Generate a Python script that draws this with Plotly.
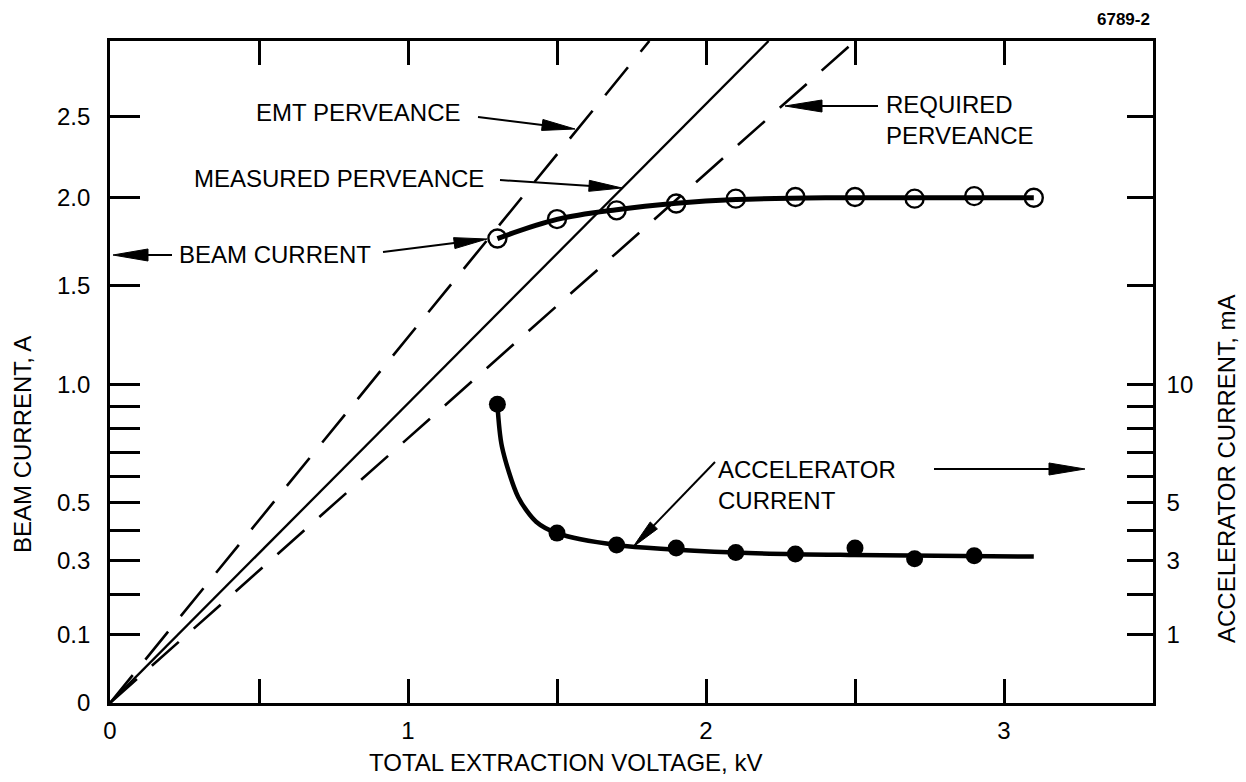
import numpy as np
import plotly.graph_objects as go

# ---------------- data ----------------
# perveance lines (I ~ V^1.5 -> straight on the I^(2/3) scale), end points
emt_v = [0.0, 1.81]
emt_i = [0.0, 3.0]
meas_v = [0.0, 2.21]
meas_i = [0.0, 3.0]
req_v = [0.0, 2.50]
req_i = [0.0, 3.0]

# beam current, A (open circles)
beam_v = [1.3, 1.5, 1.7, 1.9, 2.1, 2.3, 2.5, 2.7, 2.9, 3.1]
beam_a = [1.763, 1.875, 1.926, 1.966, 1.995, 2.005, 2.005, 1.995, 2.01, 2.0]
# faired curve through beam current
beam_fit_v = [1.3, 1.5, 1.7, 1.9, 2.1, 2.4, 2.8, 3.1]
beam_fit_a = [1.763, 1.873, 1.93, 1.968, 1.99, 2.0, 2.0, 2.0]

# accelerator current, mA (filled circles)
acc_v = [1.3, 1.5, 1.7, 1.9, 2.1, 2.3, 2.5, 2.7, 2.9]
acc_ma = [9.1, 3.9, 3.5, 3.4, 3.25, 3.2, 3.4, 3.05, 3.15]
# faired curve through accelerator current
acc_fit_v = [1.3, 1.315, 1.37, 1.43, 1.5, 1.7, 2.1, 2.5, 3.1]
acc_fit_ma = [9.1, 7.25, 5.2, 4.3, 3.9, 3.5, 3.25, 3.17, 3.12]

# axis ticks
x_ticks = [0, 0.5, 1.0, 1.5, 2.0, 2.5, 3.0]
x_labels = ["0", "", "1", "", "2", "", "3"]
left_ticks = [0, 0.1, 0.2, 0.3, 0.4, 0.5, 0.6, 0.7, 0.8, 0.9, 1.0, 1.5, 2.0, 2.5]
left_labels = ["0", "0.1", "", "0.3", "", "0.5", "", "", "", "", "1.0", "1.5", "2.0", "2.5"]
right_ticks = [1, 2, 3, 4, 5, 6, 7, 8, 9, 10, 15, 20, 25]
right_labels = ["1", "", "3", "", "5", "", "", "", "", "10", "", "", ""]

X_MAX = 3.5
I_MAX = 3.0      # A at top of frame
MA_MAX = 30.0    # mA at top of frame

# ---------------- helpers ----------------
P = 2.0 / 3.0  # the ordinate is drawn on an I^(2/3) scale


def t(v):
    return np.power(np.asarray(v, dtype=float), P)


W, H = 1246, 782
ML, MR, MT, MB = 110, 93, 41, 79
PW, PH = W - ML - MR, H - MT - MB
FONT = "Liberation Sans, Arial, Helvetica, sans-serif"
FS = 24


def px(x, y):
    """pixel position -> paper coordinates"""
    return (x - ML) / PW, (H - MB - y) / PH


annotations = []
shapes = []


def text(s, x, y, xanchor="left", size=FS, angle=0, align="left", bold=False):
    X, Y = px(x, y)
    annotations.append(dict(
        text=("<b>%s</b>" % s) if bold else s, x=X, y=Y, xref="paper", yref="paper",
        xanchor=xanchor, yanchor="middle", showarrow=False, textangle=angle,
        align=align, font=dict(family=FONT, size=size, color="black")))


def arrow(tip, tail, hl=33, hw=11, lw=2):
    tx, ty = tip
    sx, sy = tail
    dx, dy = tx - sx, ty - sy
    L = (dx * dx + dy * dy) ** 0.5
    ux, uy = dx / L, dy / L
    bx, by = tx - ux * hl, ty - uy * hl
    nx, ny = -uy, ux
    p1 = px(sx, sy)
    p2 = px(bx + ux * 2, by + uy * 2)
    shapes.append(dict(type="path", xref="paper", yref="paper",
                       path="M %f,%f L %f,%f" % (p1[0], p1[1], p2[0], p2[1]),
                       line=dict(color="black", width=lw)))
    a = px(tx, ty)
    b = px(bx + nx * hw / 2, by + ny * hw / 2)
    c = px(bx - nx * hw / 2, by - ny * hw / 2)
    shapes.append(dict(type="path", xref="paper", yref="paper",
                       path="M %f,%f L %f,%f L %f,%f Z" % (a[0], a[1], b[0], b[1], c[0], c[1]),
                       fillcolor="black", line=dict(color="black", width=1)))


# ---------------- figure ----------------
fig = go.Figure()
dash = "36px,20px"
fig.add_trace(go.Scatter(x=emt_v, y=t(emt_i), mode="lines",
                         line=dict(color="black", width=2.6, dash=dash), name="EMT perveance"))
fig.add_trace(go.Scatter(x=meas_v, y=t(meas_i), mode="lines",
                         line=dict(color="black", width=2.3), name="Measured perveance"))
fig.add_trace(go.Scatter(x=req_v, y=t(req_i), mode="lines",
                         line=dict(color="black", width=2.6, dash=dash), name="Required perveance"))

fig.add_trace(go.Scatter(x=beam_fit_v, y=t(beam_fit_a), mode="lines",
                         line=dict(color="black", width=5, shape="spline", smoothing=1.0),
                         name="Beam current fit"))
fig.add_trace(go.Scatter(x=beam_v, y=t(beam_a), mode="markers",
                         marker=dict(symbol="circle-open", size=18, color="black",
                                     line=dict(width=2.4, color="black")),
                         name="Beam current"))

fig.add_trace(go.Scatter(x=acc_fit_v, y=t(acc_fit_ma), mode="lines", yaxis="y2",
                         line=dict(color="black", width=4.5, shape="spline", smoothing=0.8),
                         name="Accelerator current fit"))
fig.add_trace(go.Scatter(x=acc_v, y=t(acc_ma), mode="markers", yaxis="y2",
                         marker=dict(symbol="circle", size=17, color="black"),
                         name="Accelerator current"))

# ---------------- labels & arrows ----------------
text("EMT PERVEANCE", 254, 113)
arrow((575, 129), (478, 117))
text("MEASURED PERVEANCE", 192, 178)
arrow((622, 188), (500, 180))
text("BEAM CURRENT", 177, 255)
arrow((487, 239), (383, 252))
arrow((113, 255), (172, 255), hl=35, hw=12)
text("REQUIRED<br>PERVEANCE", 884, 120)
arrow((785, 106), (878, 106), hl=37, hw=12)
text("ACCELERATOR<br>CURRENT", 716, 485)
arrow((633, 547), (715, 462), hl=30, hw=10)
arrow((1085, 469), (934, 469), hl=36, hw=12)

text("TOTAL EXTRACTION VOLTAGE, kV", 565, 762, xanchor="center")
text("BEAM CURRENT, A", 22, 445, xanchor="center", angle=-90)
text("ACCELERATOR CURRENT, mA", 1227, 469, xanchor="center", angle=-90)
text("6789-2", 1152, 20, xanchor="right", size=17, bold=True)

axis_common = dict(showgrid=False, zeroline=False, showline=True, linecolor="black",
                   linewidth=2.6, ticks="inside", tickwidth=2.6, tickcolor="black",
                   tickfont=dict(family=FONT, size=FS, color="black"))

fig.update_layout(
    width=W, height=H,
    margin=dict(l=ML, r=MR, t=MT, b=MB, pad=0),
    paper_bgcolor="white", plot_bgcolor="white",
    showlegend=False,
    font=dict(family=FONT, size=FS, color="black"),
    xaxis=dict(range=[0, X_MAX], tickmode="array", tickvals=x_ticks, ticktext=x_labels,
               ticklen=24, mirror="ticks", ticklabelstandoff=4, **axis_common),
    yaxis=dict(range=[0, I_MAX ** P], tickmode="array", tickvals=list(t(left_ticks)),
               ticktext=left_labels, ticklen=30, ticklabelstandoff=12, **axis_common),
    yaxis2=dict(range=[0, MA_MAX ** P], tickmode="array", tickvals=list(t(right_ticks)),
                ticktext=right_labels, ticklen=26, overlaying="y", side="right",
                ticklabelstandoff=6, **axis_common),
    annotations=annotations,
    shapes=shapes,
)

fig.write_html("out.html")
